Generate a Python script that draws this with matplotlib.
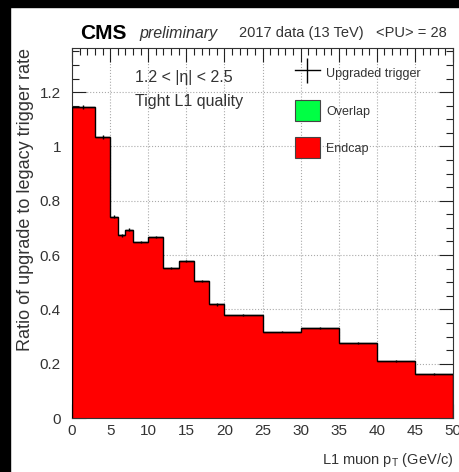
import numpy as np
import matplotlib.pyplot as plt
from matplotlib.patches import Rectangle, Patch
from matplotlib.lines import Line2D
from matplotlib.ticker import MultipleLocator

plt.rcParams['font.family'] = ['Liberation Sans', 'DejaVu Sans']
plt.rcParams['mathtext.default'] = 'regular'

# pT bin edges (GeV/c) and ratio upgraded / legacy rate in the endcap
bin_edges = [0, 3, 5, 6, 7, 8, 10, 12, 14, 16, 18, 20, 25, 30, 35, 40, 45, 50]
ratio = [1.145, 1.035, 0.741, 0.673, 0.694, 0.649, 0.666, 0.551, 0.578,
         0.503, 0.418, 0.379, 0.318, 0.332, 0.277, 0.209, 0.161]
ratio_err = [0.006, 0.006, 0.005, 0.005, 0.005, 0.004, 0.004, 0.004, 0.004,
             0.004, 0.004, 0.003, 0.003, 0.003, 0.003, 0.003, 0.003]

edges = np.array(bin_edges)
centers = 0.5 * (edges[1:] + edges[:-1])
half_w = 0.5 * np.diff(edges)

fig = plt.figure(figsize=(4.59, 4.72), dpi=100)
ax = fig.add_axes([0.157, 0.1144, 0.830, 0.7836])

# endcap histogram
ax.stairs(ratio, edges, fill=True, color='#ff0000', zorder=2)
ax.stairs(ratio, edges, color='black', lw=1.0, zorder=3)
# upgraded trigger points
ax.errorbar(centers, ratio, xerr=half_w, yerr=ratio_err, fmt='none',
            ecolor='black', elinewidth=1.0, zorder=4)

ax.set_xlim(0, 50)
ax.set_ylim(0, 1.362)
ax.xaxis.set_major_locator(MultipleLocator(5))
ax.xaxis.set_minor_locator(MultipleLocator(1))
ax.yaxis.set_major_locator(MultipleLocator(0.2))
ax.yaxis.set_minor_locator(MultipleLocator(0.05))
ax.set_yticks([0, 0.2, 0.4, 0.6, 0.8, 1.0, 1.2])
ax.set_yticklabels(['0', '0.2', '0.4', '0.6', '0.8', '1', '1.2'])
ax.tick_params(which='both', direction='in', top=True, right=True,
               labelsize=11, colors='#222222', labelcolor='#333333')
ax.tick_params(which='major', length=10, width=0.8)
ax.tick_params(which='minor', length=5, width=0.8)
ax.tick_params(axis='y', which='major', pad=8)
ax.tick_params(axis='x', which='major', pad=4)
ax.grid(True, which='major', ls=':', color='#aaaaaa', lw=0.8, zorder=1)
ax.set_axisbelow(True)
for s in ax.spines.values():
    s.set_linewidth(0.8)
    s.set_color('#333333')

ax.set_xlabel('L1 muon p$_{T}$ (GeV/c)', loc='right', fontsize=10.5,
              color='#333333', labelpad=10)
ax.set_ylabel('Ratio of upgrade to legacy trigger rate', loc='top',
              fontsize=13, color='#333333')
ax.yaxis.set_label_coords(-0.10, 1.0)

ax.text(0.165, 0.92, '1.2 < |\u03b7| < 2.5', transform=ax.transAxes,
        fontsize=11.5, color='#333333', va='center')
ax.text(0.165, 0.857, 'Tight L1 quality', transform=ax.transAxes,
        fontsize=11.5, color='#333333', va='center')

handles = [
    Line2D([], [], color='black', lw=1.0, marker='|', markersize=18,
           markeredgewidth=1.0),
    Patch(facecolor='#00ff44', edgecolor='#444444', lw=0.8),
    Patch(facecolor='#ff0000', edgecolor='#444444', lw=0.8),
]
labels = ['Upgraded trigger', 'Overlap', 'Endcap']
leg = ax.legend(handles, labels, loc='upper left',
                bbox_to_anchor=(0.555, 0.99), frameon=False, fontsize=9,
                handlelength=2.0, handleheight=2.2, labelspacing=1.3,
                handletextpad=0.5)
for t in leg.get_texts():
    t.set_color('#333333')

# header
fig.text(0.175, 0.930, 'CMS', fontsize=15, fontweight='bold', va='center')
fig.text(0.303, 0.930, 'preliminary', fontsize=11.5, style='italic',
         va='center', color='#333333')
fig.text(0.974, 0.930, '2017 data (13 TeV)   <PU> = 28', fontsize=10.5,
         ha='right', va='center', color='#333333')

# dark screenshot border
fig.patches.append(Rectangle((0, 1 - 7 / 472), 1, 7 / 472,
                             transform=fig.transFigure, color='black'))
fig.patches.append(Rectangle((0, 0), 10 / 459, 1,
                             transform=fig.transFigure, color='black'))

fig.savefig('out.png', dpi=100)
plt.close(fig)
